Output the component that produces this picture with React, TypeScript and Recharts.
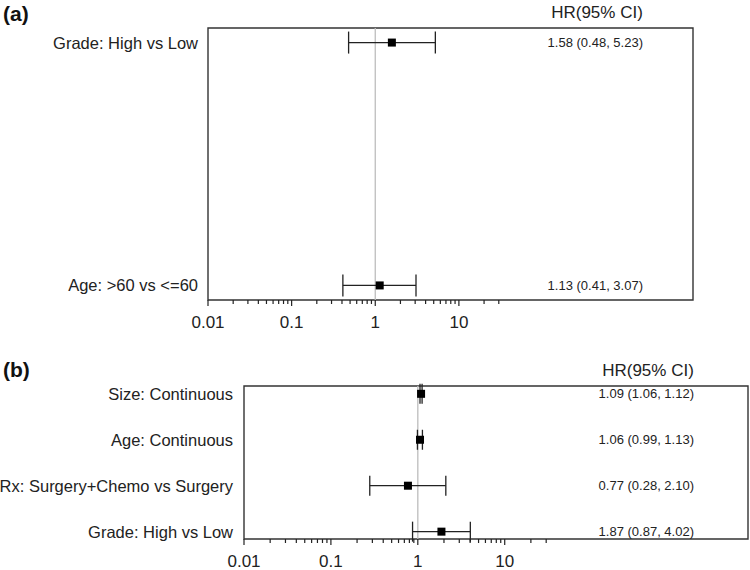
import React from 'react';
import {
  ScatterChart,
  Scatter,
  XAxis,
  YAxis,
  ErrorBar,
  ReferenceLine,
  ReferenceArea,
} from 'recharts';

// panel (a)
const labelsA = ['Grade: High vs Low', 'Age: >60 vs <=60'];
const hrA = [1.58, 1.13];
const loA = [0.48, 0.41];
const hiA = [5.23, 3.07];

// panel (b)
const labelsB = [
  'Size: Continuous',
  'Age: Continuous',
  'Rx: Surgery+Chemo vs Surgery',
  'Grade: High vs Low',
];
const hrB = [1.09, 1.06, 0.77, 1.87];
const loB = [1.06, 0.99, 0.28, 0.87];
const hiB = [1.12, 1.13, 2.1, 4.02];

// log axis ticks
const MAJOR_TICKS = [0.01, 0.1, 1, 10];
const MINOR_STEPS = [2, 3, 4, 5, 6, 7, 8, 9];
const TAIL_TICKS = [20, 30];
const X_MAX = 6300;

const FONT = '"Liberation Sans", Arial, sans-serif';

const allTicks: number[] = [];
MAJOR_TICKS.slice(0, 3).forEach((m) => {
  allTicks.push(m);
  MINOR_STEPS.forEach((s) => allTicks.push(+(m * s).toPrecision(3)));
});
allTicks.push(MAJOR_TICKS[3], ...TAIL_TICKS);

const buildRows = (hr: number[], lo: number[], hi: number[]) =>
  hr.map((v, i) => ({ row: i, hr: v, err: [v - lo[i], hi[i] - v] }));

const fmtHR = (hr: number[], lo: number[], hi: number[]) =>
  hr.map((v, i) => `${v.toFixed(2)} (${lo[i].toFixed(2)}, ${hi[i].toFixed(2)})`);

const LogTick = (props: any) => {
  const { x, y, payload } = props;
  const major = MAJOR_TICKS.includes(payload.value);
  return (
    <g>
      <line x1={x} x2={x} y1={y} y2={y + (major ? 6 : 4)} stroke="#222" strokeWidth={1.2} />
      {major && (
        <text
          x={x}
          y={y + 22}
          textAnchor="middle"
          dominantBaseline="central"
          fill="#222"
          fontSize={17}
          fontFamily={FONT}
        >
          {String(payload.value)}
        </text>
      )}
    </g>
  );
};

const Square = (props: any) => {
  const { cx, cy } = props;
  return <rect x={cx - 4} y={cy - 4} width={8} height={8} fill="#000" />;
};

interface ForestProps {
  labels: string[];
  hr: number[];
  lo: number[];
  hi: number[];
  width: number;
  height: number;
  margin: { top: number; right: number; left: number; bottom: number };
  yWidth: number;
  xHeight: number;
  yDomain: [number, number];
  labelGap: number;
  hrGap: number;
  capWidth: number;
}

function Forest(p: ForestProps) {
  const data = buildRows(p.hr, p.lo, p.hi);
  const hrText = fmtHR(p.hr, p.lo, p.hi);
  const rows = p.labels.map((_, i) => i);

  const LabelTick = (t: any) => (
    <text
      x={t.x}
      y={t.y}
      textAnchor="end"
      dominantBaseline="central"
      fill="#222"
      fontSize={16.5}
      fontFamily={FONT}
    >
      {p.labels[t.payload.value]}
    </text>
  );

  const HRTick = (t: any) => (
    <text
      x={t.x}
      y={t.y}
      textAnchor="end"
      dominantBaseline="central"
      fill="#222"
      fontSize={13}
      fontFamily={FONT}
    >
      {hrText[t.payload.value]}
    </text>
  );

  return (
    <ScatterChart width={p.width} height={p.height} margin={p.margin}>
      <XAxis
        type="number"
        dataKey="hr"
        scale="log"
        domain={[MAJOR_TICKS[0], X_MAX]}
        ticks={allTicks}
        interval={0}
        tick={<LogTick />}
        tickSize={0}
        tickMargin={0}
        axisLine={false}
        tickLine={false}
        height={p.xHeight}
        allowDataOverflow
      />
      <YAxis
        type="number"
        dataKey="row"
        domain={p.yDomain}
        reversed
        ticks={rows}
        interval={0}
        tick={LabelTick}
        tickSize={0}
        tickMargin={p.labelGap}
        axisLine={false}
        tickLine={false}
        width={p.yWidth}
        allowDataOverflow
      />
      <YAxis
        yAxisId="hr"
        type="number"
        orientation="right"
        mirror
        domain={p.yDomain}
        reversed
        ticks={rows}
        interval={0}
        tick={HRTick}
        tickSize={0}
        tickMargin={p.hrGap}
        axisLine={false}
        tickLine={false}
        allowDataOverflow
      />
      <ReferenceArea
        x1={MAJOR_TICKS[0]}
        x2={X_MAX}
        y1={p.yDomain[0]}
        y2={p.yDomain[1]}
        fill="none"
        fillOpacity={0}
        stroke="#333"
        strokeWidth={1.4}
      />
      <ReferenceLine x={1} stroke="#bdbdbd" strokeWidth={1.3} />
      <Scatter data={data} shape={<Square />} isAnimationActive={false}>
        <ErrorBar
          dataKey="err"
          direction="x"
          width={p.capWidth}
          stroke="#222"
          strokeWidth={1.3}
          isAnimationActive={false}
        />
      </Scatter>
    </ScatterChart>
  );
}

const panelTitle: React.CSSProperties = {
  position: 'absolute',
  left: 3,
  fontSize: 21,
  fontWeight: 'bold',
  lineHeight: '21px',
  color: '#111',
};

const header: React.CSSProperties = {
  position: 'absolute',
  width: 140,
  textAlign: 'center',
  fontSize: 17,
  lineHeight: '17px',
  color: '#222',
};

export default function App() {
  return (
    <div
      style={{
        position: 'absolute',
        left: 0,
        top: 0,
        width: 750,
        height: 570,
        background: '#fff',
        fontFamily: FONT,
      }}
    >
      <div style={{ ...panelTitle, top: 3 }}>(a)</div>
      <div style={{ ...header, left: 597 - 70, top: 4 }}>HR(95% CI)</div>
      <div style={{ position: 'absolute', left: 0, top: 0 }}>
        <Forest
          labels={labelsA}
          hr={hrA}
          lo={loA}
          hi={hiA}
          width={750}
          height={340}
          margin={{ top: 28, right: 57, left: 8, bottom: 0 }}
          yWidth={200}
          xHeight={40}
          yDomain={[-0.06, 1.06]}
          labelGap={10}
          hrGap={50}
          capWidth={11}
        />
      </div>

      <div style={{ ...panelTitle, top: 359 }}>(b)</div>
      <div style={{ ...header, left: 648 - 70, top: 362 }}>HR(95% CI)</div>
      <div style={{ position: 'absolute', left: 0, top: 340 }}>
        <Forest
          labels={labelsB}
          hr={hrB}
          lo={loB}
          hi={hiB}
          width={750}
          height={230}
          margin={{ top: 46, right: 2, left: 8, bottom: 0 }}
          yWidth={236}
          xHeight={31}
          yDomain={[-0.17, 3.16]}
          labelGap={11}
          hrGap={54}
          capWidth={10}
        />
      </div>
    </div>
  );
}
